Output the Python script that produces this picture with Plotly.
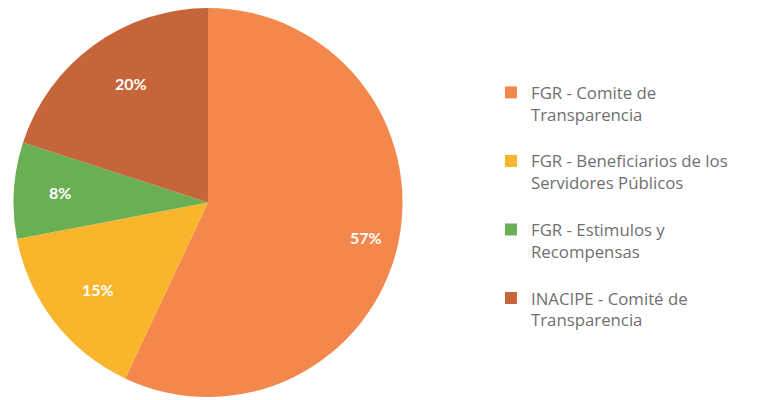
import math
import plotly.graph_objects as go

labels = [
    "FGR - Comite de<br>Transparencia<br> ",
    "FGR - Beneficiarios de los<br>Servidores Públicos<br> ",
    "FGR - Estimulos y<br>Recompensas<br> ",
    "INACIPE - Comité de<br>Transparencia<br> ",
]
values = [57, 15, 8, 20]
colors = ["#F4874C", "#F9B52B", "#6BAF55", "#C6643A"]

W, H = 757, 400
# pie geometry in figure pixels
cx, cy, R = 200.0, 194.5, 194.5

fig = go.Figure(go.Pie(
    labels=labels,
    values=values,
    sort=False,
    direction="clockwise",
    rotation=0,
    marker=dict(colors=colors, line=dict(width=0)),
    textinfo="none",
    domain=dict(x=[(cx - R) / W, (cx + R) / W], y=[1 - (cy + R) / H, 1 - (cy - R) / H]),
    hoverinfo="label+percent",
))

# percentage labels placed along each slice's mid-angle, computed from values
total = sum(values)
cum = 0
for v in values:
    theta = 2 * math.pi * (cum + v / 2) / total
    cum += v
    px = cx + 0.83 * R * math.sin(theta)
    py = cy - 0.83 * R * math.cos(theta)
    fig.add_annotation(
        x=px / W, y=1 - py / H, xref="paper", yref="paper",
        text=f"{v}%", showarrow=False,
        font=dict(family="Lato", size=16, color="white", weight="bold"),
    )

fig.update_layout(
    width=W, height=H,
    margin=dict(l=0, r=0, t=0, b=0),
    paper_bgcolor="white",
    plot_bgcolor="white",
    showlegend=True,
    legend=dict(
        x=0.638, y=0.8325, xanchor="left", yanchor="top",
        font=dict(family="Open Sans", size=16.8, color="#707070"),
        valign="top",
        itemwidth=30,
        tracegroupgap=0,
    ),
)

fig.write_html("out.html")
